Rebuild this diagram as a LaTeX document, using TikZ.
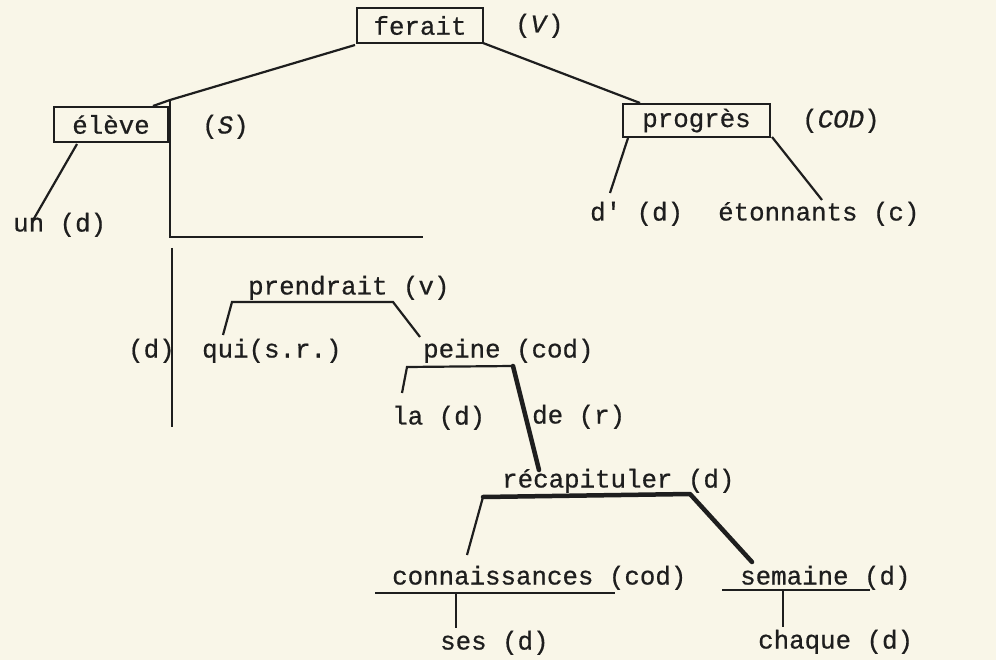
\documentclass[tikz,border=0pt]{standalone}
\usepackage{fontspec}
\newfontfamily\tw{Liberation Mono}[FakeBold=0.6]
\definecolor{paper}{RGB}{249,246,232}
\definecolor{ink}{RGB}{30,30,30}
\begin{document}
\begin{tikzpicture}[x=1pt,y=-1pt,
  lbl/.style={anchor=west,inner sep=0pt,text height=0.75em,text depth=0.25em,yshift=-5pt,
     font=\tw\fontsize{25.8}{30}\selectfont,text=ink},
  wbox/.style={draw=ink,line width=2pt,inner sep=0pt,
     font=\tw\fontsize{25.8}{30}\selectfont,text=ink},
  ln/.style={draw=ink,line width=2.2pt},
  thk/.style={draw=ink,line width=4.5pt,line cap=round,line join=round}]
\fill[paper] (0,0) rectangle (996,660);
\useasboundingbox (0,0) rectangle (996,660);
% boxed words
\node[wbox,minimum width=126pt,minimum height=35pt] (ferait) at (420,25.5) {ferait};
\node[wbox,minimum width=114pt,minimum height=35pt] (eleve) at (111,124.5) {élève};
\node[wbox,minimum width=147pt,minimum height=33pt] (progres) at (696.5,120.5) {progrès};
% labels
\node[lbl] (V) at (515,25) {(\textit{V})};
\node[lbl] (S) at (202,126) {(\textit{S})};
\node[lbl] (COD) at (802,120) {(\textit{COD})};
\node[lbl] (un) at (13,224) {un (d)};
\node[lbl] (dp) at (590,213) {d' (d)};
\node[lbl] (eton) at (718,213) {étonnants (c)};
\node[lbl] (dl) at (128,350) {(d)};
\node[lbl] (qui) at (202,350) {qui(s.r.)};
\node[lbl] (prend) at (248,287) {prendrait (v)};
\node[lbl] (peine) at (423,350) {peine (cod)};
\node[lbl] (la) at (392,417) {la (d)};
\node[lbl] (de) at (532,416) {de (r)};
\node[lbl] (recap) at (502,480) {récapituler (d)};
\node[lbl] (conn) at (392,577) {connaissances (cod)};
\node[lbl] (sem) at (740,577) {semaine (d)};
\node[lbl] (ses) at (440,642) {ses (d)};
\node[lbl] (chaq) at (758,641) {chaque (d)};
% coordinates
\coordinate (fSW) at (355,45);
\coordinate (eTop) at (153,106);
\coordinate (jS) at (170,100);
\coordinate (jC) at (170,237);
\coordinate (jE) at (423,237);
\coordinate (vT) at (172,248);
\coordinate (vB) at (172,427);
\coordinate (eB) at (77,144);
\coordinate (unT) at (32,222);
\coordinate (fSE) at (483,43);
\coordinate (pTop) at (640,103);
\coordinate (pBL) at (628,138);
\coordinate (dpT) at (610,193);
\coordinate (pBR) at (772,137);
\coordinate (etT) at (822,200);
\coordinate (prL) at (232,302);
\coordinate (prR) at (393,302);
\coordinate (quiT) at (223,335);
\coordinate (peT) at (420,337);
\coordinate (peL) at (407,367);
\coordinate (peR) at (513,366);
\coordinate (laT) at (402,393);
\coordinate (reT) at (539,470);
\coordinate (reL) at (483,497);
\coordinate (reR) at (690,494);
\coordinate (coT) at (467,555);
\coordinate (seT) at (752,562);
\coordinate (coL) at (375,593);
\coordinate (coR) at (615,593);
\coordinate (coM) at (456,593);
\coordinate (sesT) at (456,628);
\coordinate (smL) at (722,590);
\coordinate (smR) at (870,590);
\coordinate (smM) at (783,590);
\coordinate (chT) at (783,627);
% connectors
\draw[ln] (fSW) -- (jS) -- (eTop);
\draw[ln] (jS) -- (jC) -- (jE);
\draw[ln] (vT) -- (vB);
\draw[ln] (eB) -- (unT);
\draw[ln] (fSE) -- (pTop);
\draw[ln] (pBL) -- (dpT);
\draw[ln] (pBR) -- (etT);
\draw[ln] (quiT) -- (prL) -- (prR) -- (peT);
\draw[ln] (laT) -- (peL) -- (peR);
\draw[thk] (peR) -- (reT);
\draw[thk] (reL) -- (reR) -- (seT);
\draw[ln] (reL) -- (coT);
\draw[ln] (coL) -- (coR);
\draw[ln] (coM) -- (sesT);
\draw[ln] (smL) -- (smR);
\draw[ln] (smM) -- (chT);
\end{tikzpicture}
\end{document}
